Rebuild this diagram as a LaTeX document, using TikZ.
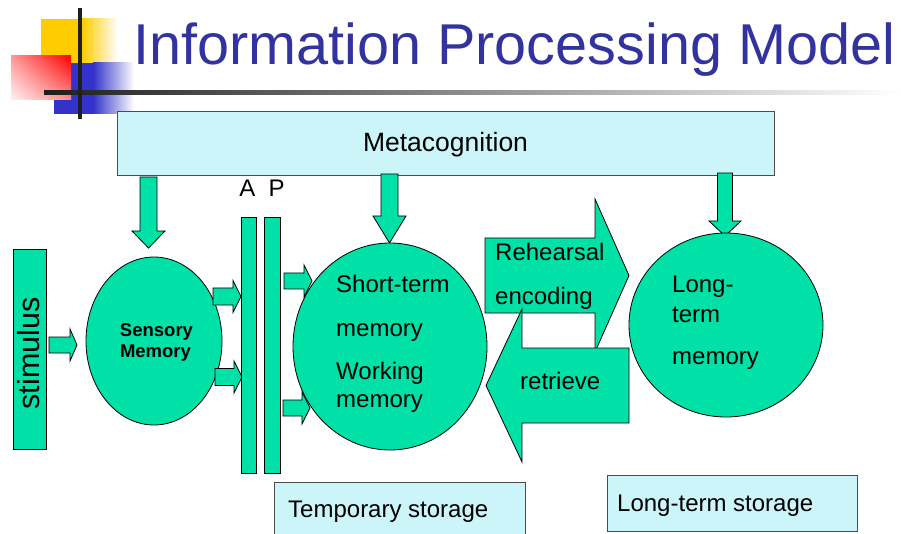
\documentclass[tikz,border=0pt]{standalone}
\usepackage{fontspec}
\setmainfont{Liberation Sans}
\usetikzlibrary{shapes.geometric,shadings}

\definecolor{memgreen}{RGB}{0,225,168}
\definecolor{paleblue}{RGB}{204,245,250}
\definecolor{titleblue}{RGB}{51,51,160}
\definecolor{decoyellow}{RGB}{255,204,0}
\definecolor{decoblue}{RGB}{51,51,204}
\definecolor{decored}{RGB}{255,0,0}

% block arrow pointing right: x start, x tip, y centre, shaft half, head half, head length
\newcommand\BArrowR[6]{%
  \filldraw[blk] (#1,#3-#4) -- (#2-#6,#3-#4) -- (#2-#6,#3-#5) -- (#2,#3)
    -- (#2-#6,#3+#5) -- (#2-#6,#3+#4) -- (#1,#3+#4) -- cycle;}
% block arrow pointing left: x start, x tip, y centre, shaft half, head half, head length
\newcommand\BArrowL[6]{%
  \filldraw[blk] (#1,#3-#4) -- (#2+#6,#3-#4) -- (#2+#6,#3-#5) -- (#2,#3)
    -- (#2+#6,#3+#5) -- (#2+#6,#3+#4) -- (#1,#3+#4) -- cycle;}
% block arrow pointing down: x centre, y start, y tip, shaft half, head half, head length
\newcommand\BArrowD[6]{%
  \filldraw[blk] (#1-#4,#2) -- (#1-#4,#3-#6) -- (#1-#5,#3-#6) -- (#1,#3)
    -- (#1+#5,#3-#6) -- (#1+#4,#3-#6) -- (#1+#4,#2) -- cycle;}

\begin{document}
\begin{tikzpicture}[x=1pt,y=-1pt,
  blk/.style={fill=memgreen,draw=black,line width=0.8pt,line join=miter},
  memory/.style={ellipse,fill=memgreen,draw=black,line width=0.8pt,inner sep=0pt},
  bar/.style={rectangle,fill=memgreen,draw=black,line width=0.8pt,inner sep=0pt},
  infobox/.style={rectangle,fill=paleblue,draw=black!70,line width=1pt,inner sep=0pt},
  lbl/.style={font=\fontsize{24}{28}\selectfont,inner sep=0pt,anchor=base west},
]
\useasboundingbox (0,0) rectangle (901,534);

% --- corner decoration ---
\fill[decoyellow] (41,19) rectangle (82,63);
\shade[left color=decoyellow,right color=white] (82,19) rectangle (118,63);
\fill[decoblue] (54,63) rectangle (93,114);
\shade[left color=decoblue,right color=white] (93,63) rectangle (134,114);
\shade[upper right=decored,upper left=decored!40,lower right=decored!45,lower left=decored!5]
  (11,56) rectangle (71,100);
\shade[left color=black!88,right color=white] (44,91) rectangle (901,95);
\fill[black!88] (78,8) rectangle (82,119);

% --- title ---
\node[anchor=base west,inner sep=0pt,text=titleblue,font=\fontsize{57.6}{60}\selectfont]
  (title) at (133,65) {Information Processing Model};

% --- metacognition ---
\node[infobox,minimum width=657pt,minimum height=64pt] (meta) at (445.5,144) {};
\node[lbl,anchor=base,font=\fontsize{26.5}{30}\selectfont] (metatxt) at (445.5,152) {Metacognition};

\BArrowD{148.5}{177}{248}{8.5}{16.5}{17}
\BArrowD{389.5}{174}{243}{8.5}{16.5}{27}
\BArrowD{725}{173}{236}{7.5}{16}{15}

% --- stimulus ---
\node[bar,minimum width=33pt,minimum height=200pt] (stim) at (29.5,349) {};
\node[rotate=90,inner sep=0pt,font=\fontsize{30.5}{34}\selectfont] (stimtxt) at (29,353.5) {stimulus};
\BArrowR{49}{77}{345}{8}{16}{7}

% --- sensory memory ---
\node[memory,minimum width=136pt,minimum height=168pt] (sens) at (154,341) {};
\node[lbl,anchor=base,font=\bfseries\fontsize{18.5}{22}\selectfont] (senst1) at (156.5,336) {Sensory};
\node[lbl,anchor=base,font=\bfseries\fontsize{18.5}{22}\selectfont] (senst2) at (155.5,357) {Memory};

\BArrowR{213}{241}{296.5}{8.5}{16}{8}
\BArrowR{215}{242}{377}{8.5}{16}{8}

% --- attention / perception bars ---
\node[bar,minimum width=15pt,minimum height=256pt] (abar) at (248.5,345) {};
\node[bar,minimum width=16pt,minimum height=256pt] (pbar) at (272,345) {};
\node[lbl,anchor=base,font=\fontsize{24}{28}\selectfont] (alab) at (247.5,197) {A};
\node[lbl,anchor=base,font=\fontsize{24}{28}\selectfont] (plab) at (276.5,197) {P};

\BArrowR{284}{312}{281}{8}{16}{8}
\BArrowR{283}{310}{408}{8}{16}{8}

% --- short-term memory ---
\node[memory,minimum width=194pt,minimum height=207pt] (stm) at (390,346.5) {};
\node[lbl] (stm1) at (336,293) {Short-term};
\node[lbl] (stm2) at (336,336) {memory};
\node[lbl] (stm3) at (336,379) {Working};
\node[lbl] (stm4) at (336,407) {memory};

% --- rehearsal / retrieve ---
\BArrowR{485}{629}{275.5}{37.5}{76.5}{34}
\BArrowL{629}{486}{385.5}{37.5}{76.5}{36}
\node[lbl] (reh) at (495,261) {Rehearsal};
\node[lbl] (enc) at (495,305) {encoding};
\node[lbl] (ret) at (520,389) {retrieve};

% --- long-term memory ---
\node[memory,minimum width=194pt,minimum height=184pt] (ltm) at (726,325) {};
\node[lbl] (ltm1) at (672,293) {Long-};
\node[lbl] (ltm2) at (672,322) {term};
\node[lbl] (ltm3) at (672,364) {memory};

% --- storage labels ---
\node[infobox,minimum width=251pt,minimum height=64pt] (tmpbox) at (399.5,514) {};
\node[lbl] (tmptxt) at (288,517) {Temporary storage};
\node[infobox,minimum width=250pt,minimum height=56pt] (ltsbox) at (732,503) {};
\node[lbl] (ltstxt) at (617,511) {Long-term storage};
\end{tikzpicture}
\end{document}
